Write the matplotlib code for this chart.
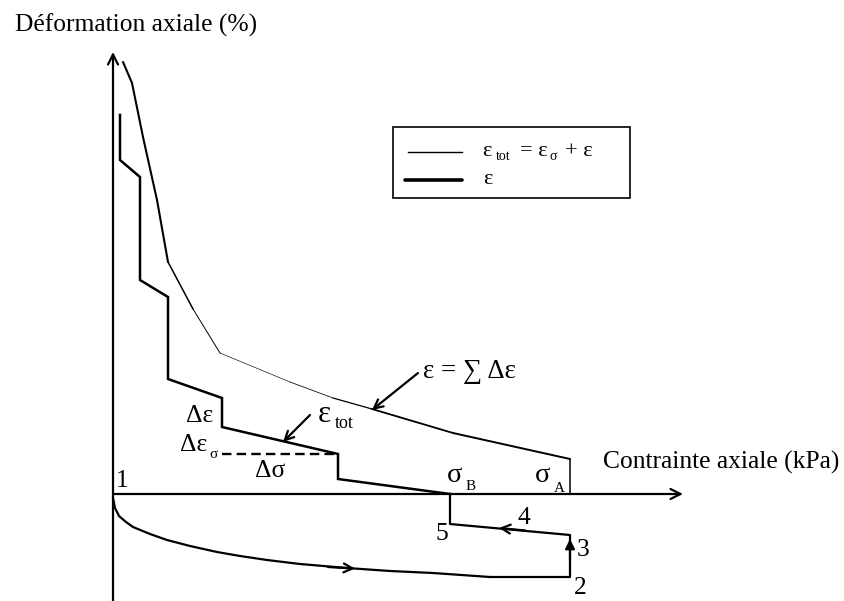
import numpy as np
import matplotlib.pyplot as plt
from matplotlib.collections import LineCollection

plt.rcParams['font.family'] = ['Liberation Serif', 'DejaVu Serif']

# schematic units, origin at point "1" (stress to the right, strain upward)
# epsilon_tot curve (thin line)
tot_stress = [10, 19, 30, 44, 55, 80, 107, 177, 220, 259, 340, 457, 457]
tot_strain = [432, 411, 357, 294, 232, 185, 141, 112, 96, 85, 61, 35, 0]
tot_width = [1.5, 1.5, 1.5, 1.5, 1.1, 0.7, 0.45, 0.55, 0.9, 1.3, 1.4, 1.1]

# epsilon curve (stepwise, thick)
eps_stress = [7, 7, 27, 27, 55, 55, 109, 109, 225, 225, 337]
eps_strain = [379, 334, 317, 214, 197, 115, 96, 67, 40, 15, 0]

# delta sigma step (dashed)
step_stress = [109, 225]
step_strain = [40, 40]

# loading path 1 -> 2 -> 3 -> 4 -> 5
path_stress = [0, 2, 6, 13, 20, 37, 54, 77, 104, 127, 154, 187, 234, 277,
               320, 377, 457, 457, 337, 337]
path_strain = [-4, -14, -22, -28, -33, -40, -46, -52, -58, -62, -66, -70,
               -74, -77, -79, -83, -83, -41, -30, 0]

sigma_a = 457
sigma_b = 337

fig = plt.figure(figsize=(8.44, 6.01), dpi=100)
ax = fig.add_axes([0, 0, 1, 1])
ax.set_xlim(-113, 731)
ax.set_ylim(-107, 494)
ax.axis('off')

# axes with arrows
ax.annotate('', xy=(570, 0), xytext=(0, 0),
            arrowprops=dict(arrowstyle='->', lw=1.6, color='black',
                            mutation_scale=18, shrinkA=0, shrinkB=0))
ax.annotate('', xy=(0, 442), xytext=(0, -107),
            arrowprops=dict(arrowstyle='->', lw=1.6, color='black',
                            mutation_scale=18, shrinkA=0, shrinkB=0))

# epsilon_tot with varying width
pts = np.column_stack([tot_stress, tot_strain])
segs = np.stack([pts[:-1], pts[1:]], axis=1)
ax.add_collection(LineCollection(segs, linewidths=tot_width, colors='black',
                                 capstyle='round'))

ax.plot(eps_stress, eps_strain, color='black', lw=1.8, solid_joinstyle='miter')
ax.plot(step_stress, step_strain, color='black', lw=1.7, ls=(0, (4, 2.2)))
ax.plot(path_stress, path_strain, color='black', lw=1.6)

# direction arrows on the path
arr = dict(arrowstyle='->', lw=1.6, color='black', mutation_scale=16,
           shrinkA=0, shrinkB=0)
ax.annotate('', xy=(242, -74.6), xytext=(215, -73), arrowprops=arr)
ax.annotate('', xy=(sigma_a, -45), xytext=(sigma_a, -66),
            arrowprops=dict(arrowstyle='-|>', lw=1.6, color='black',
                            mutation_scale=14, shrinkA=0, shrinkB=0))
ax.annotate('', xy=(386, -34), xytext=(412, -36.5), arrowprops=arr)

# labelled arrows
ax.annotate('', xy=(259, 84), xytext=(305, 121), arrowprops=arr)
ax.annotate('', xy=(170, 52), xytext=(197, 79), arrowprops=arr)

fs = 18.4
sub = 11
kw = dict(ha='center', va='center', fontsize=fs)
ax.text(-98, 469, 'Déformation axiale (%)', ha='left', va='center', fontsize=fs)
ax.text(490, 32, 'Contrainte axiale (kPa)', ha='left', va='center', fontsize=fs)
ax.text(9, 13, '1', **kw)
ax.text(467, -94, '2', **kw)
ax.text(470, -56, '3', **kw)
ax.text(411, -24, '4', **kw)
ax.text(329, -40, '5', **kw)
ax.text(342, 18, 'σ', fontsize=fs + 2, ha='center', va='center')
ax.text(358, 7, 'B', ha='center', va='center', fontsize=sub)
ax.text(429, 18, 'σ', fontsize=fs + 2, ha='center', va='center')
ax.text(446, 5, 'A', ha='center', va='center', fontsize=sub)
ax.text(87, 78, 'Δε', **kw)
ax.text(81, 49, 'Δε', **kw)
ax.text(101, 40, 'σ', ha='center', va='center', fontsize=sub)
ax.text(157, 23, 'Δσ', **kw)
ax.text(211, 80, 'ε', fontsize=fs + 4, ha='center', va='center')
ax.text(231, 70, 'tot', ha='center', va='center', fontsize=sub + 2)
ax.text(310, 123, 'ε = ∑ Δε', ha='left', va='center', fontsize=fs + 1)

# legend box
ax.add_patch(plt.Rectangle((280, 296), 237, 71, fill=False, lw=1.2, color='black'))
ax.plot([295, 349], [342, 342], color='black', lw=1.0)
ax.plot([292, 349], [314, 314], color='black', lw=2.6, solid_capstyle='round')
lfs = 16
ax.text(369, 343, 'ε', ha='left', va='center', fontsize=lfs)
ax.text(383, 338, 'tot', ha='left', va='center', fontsize=10)
ax.text(407, 343, '= ε', ha='left', va='center', fontsize=lfs)
ax.text(437, 338, 'σ', ha='left', va='center', fontsize=10)
ax.text(452, 343, '+ ε', ha='left', va='center', fontsize=lfs)
ax.text(370, 314, 'ε', ha='left', va='center', fontsize=lfs)

fig.savefig('out.png', dpi=100)
